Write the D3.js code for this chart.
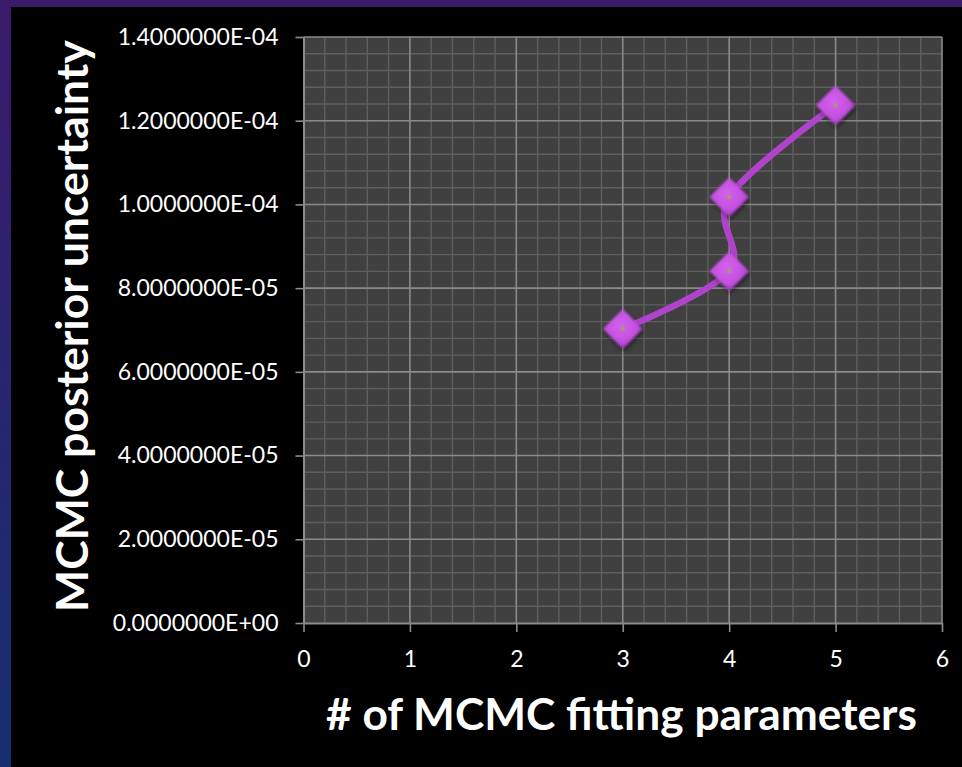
<!DOCTYPE html>
<html>
<head>
<meta charset="utf-8">
<script src="https://cdn.jsdelivr.net/npm/d3@7"></script>
<style>
  html, body { margin: 0; padding: 0; background: #000; }
  svg { display: block; }
</style>
</head>
<body>
<svg id="chart" width="962" height="767"></svg>
<script>
// Number of MCMC fitting parameters vs. posterior uncertainty
const params = [3, 4, 4, 5];
const uncertainty = [7.03e-5, 8.41e-5, 1.018e-4, 1.237e-4];

const xTickValues = [0, 1, 2, 3, 4, 5, 6];
const xTickLabels = ["0", "1", "2", "3", "4", "5", "6"];
const yTickValues = [0, 2e-5, 4e-5, 6e-5, 8e-5, 1e-4, 1.2e-4, 1.4e-4];
const yTickLabels = [
  "0.0000000E+00", "2.0000000E-05", "4.0000000E-05", "6.0000000E-05",
  "8.0000000E-05", "1.0000000E-04", "1.2000000E-04", "1.4000000E-04"
];

const xTitle = "# of MCMC fitting parameters";
const yTitle = "MCMC posterior uncertainty";

const W = 962, H = 767;
const plot = { left: 303.5, right: 942, top: 37, bottom: 623 };

const svg = d3.select("#chart");
const defs = svg.append("defs");

// slide backdrop: purple-to-blue band behind a black panel
const bg = defs.append("linearGradient").attr("id", "slideBg")
  .attr("x1", 0).attr("y1", 0).attr("x2", 0).attr("y2", 1);
bg.append("stop").attr("offset", "0%").attr("stop-color", "#3b1a6c");
bg.append("stop").attr("offset", "100%").attr("stop-color", "#16306f");
svg.append("rect").attr("width", W).attr("height", H).attr("fill", "url(#slideBg)");
svg.append("rect").attr("x", 11).attr("y", 7).attr("width", W - 11).attr("height", H - 7).attr("fill", "#000");

// marker styling
const mg = defs.append("radialGradient").attr("id", "markerFill")
  .attr("cx", "45%").attr("cy", "42%").attr("r", "60%");
mg.append("stop").attr("offset", "0%").attr("stop-color", "#d462ec");
mg.append("stop").attr("offset", "70%").attr("stop-color", "#c24fde");
mg.append("stop").attr("offset", "100%").attr("stop-color", "#9c35ba");
const shadow = defs.append("filter").attr("id", "markerShadow")
  .attr("x", "-50%").attr("y", "-50%").attr("width", "200%").attr("height", "200%");
shadow.append("feGaussianBlur").attr("in", "SourceGraphic").attr("stdDeviation", 0.8).attr("result", "soft");
shadow.append("feDropShadow").attr("in", "soft").attr("dx", 1).attr("dy", 2.5)
  .attr("stdDeviation", 2).attr("flood-color", "#000").attr("flood-opacity", 0.7);

const x = d3.scaleLinear().domain([0, 6]).range([plot.left, plot.right]);
const y = d3.scaleLinear().domain([0, 1.4e-4]).range([plot.bottom, plot.top]);

// plot area
svg.append("rect")
  .attr("x", plot.left).attr("y", plot.top)
  .attr("width", plot.right - plot.left).attr("height", plot.bottom - plot.top)
  .attr("fill", "#404040");

// minor gridlines (5 per major step)
const xMinor = d3.range(0, 6.0001, 0.2).filter(v => Math.abs(v - Math.round(v)) > 1e-6);
const yMinor = d3.range(0, 1.40001e-4, 4e-6).filter(v => Math.abs(v / 2e-5 - Math.round(v / 2e-5)) > 1e-6);
const grid = svg.append("g");
grid.selectAll(".xm").data(xMinor).join("line")
  .attr("x1", d => x(d)).attr("x2", d => x(d))
  .attr("y1", plot.top).attr("y2", plot.bottom)
  .attr("stroke", "#5f5f5f").attr("stroke-width", 1.4);
grid.selectAll(".ym").data(yMinor).join("line")
  .attr("x1", plot.left).attr("x2", plot.right)
  .attr("y1", d => y(d)).attr("y2", d => y(d))
  .attr("stroke", "#5f5f5f").attr("stroke-width", 1.4);
// major gridlines
grid.selectAll(".xM").data(xTickValues.slice(1)).join("line")
  .attr("x1", d => x(d)).attr("x2", d => x(d))
  .attr("y1", plot.top).attr("y2", plot.bottom)
  .attr("stroke", "#8a8a8a").attr("stroke-width", 1.6);
grid.selectAll(".yM").data(yTickValues.slice(1)).join("line")
  .attr("x1", plot.left).attr("x2", plot.right)
  .attr("y1", d => y(d)).attr("y2", d => y(d))
  .attr("stroke", "#8a8a8a").attr("stroke-width", 1.6);

// axes
const tickFont = "Lato, 'Open Sans', sans-serif";
const yAxis = svg.append("g")
  .attr("transform", `translate(${plot.left},0)`)
  .call(d3.axisLeft(y).tickValues(yTickValues)
    .tickFormat((d, i) => yTickLabels[i]).tickSize(8).tickPadding(17).tickSizeOuter(0));
const xAxis = svg.append("g")
  .attr("transform", `translate(0,${plot.bottom})`)
  .call(d3.axisBottom(x).tickValues(xTickValues)
    .tickFormat((d, i) => xTickLabels[i]).tickSize(9).tickPadding(19).tickSizeOuter(0));
[yAxis, xAxis].forEach(a => {
  a.select(".domain").attr("stroke", "#8c8c8c").attr("stroke-width", 2);
  a.selectAll(".tick line").attr("stroke", "#8c8c8c").attr("stroke-width", 1.6);
  a.selectAll("text").attr("fill", "#fff").attr("font-family", tickFont)
    .attr("font-size", 24);
});

// fit tick label size so "1.4000000E-04" spans about 161px
(function fitTicks() {
  const t = yAxis.selectAll(".tick text").filter((d, i) => i === yTickLabels.length - 1).node();
  const w = t.getComputedTextLength();
  const fs = 24 * 161 / w;
  yAxis.selectAll("text").attr("font-size", fs);
  xAxis.selectAll("text").attr("font-size", fs);
})();

// smoothed series line
const pts = params.map((p, i) => [x(p), y(uncertainty[i])]);
svg.append("path")
  .attr("d", d3.line().curve(d3.curveCardinal.tension(0))(pts))
  .attr("fill", "none").attr("stroke", "#b043cc").attr("stroke-width", 6.5)
  .attr("stroke-linecap", "round");

// diamond markers
const markerR = 19.5;
const mk = svg.append("g").selectAll("g").data(pts).join("g")
  .attr("transform", d => `translate(${d[0]},${d[1]})`);
mk.append("path")
  .attr("d", `M0,${-markerR}L${markerR},0L0,${markerR}L${-markerR},0Z`)
  .attr("fill", "url(#markerFill)")
  .attr("filter", "url(#markerShadow)");
mk.append("circle").attr("r", 2.2).attr("fill", "#a39a6e");

// axis titles, sized to their measured spans
const titleFont = "Lato, 'Open Sans', sans-serif";
const xt = svg.append("text").text(xTitle)
  .attr("x", (326 + 917) / 2).attr("y", 729.5)
  .attr("text-anchor", "middle").attr("fill", "#fff")
  .attr("font-family", titleFont).attr("font-weight", 700).attr("font-size", 44);
xt.attr("font-size", 44 * 591 / xt.node().getComputedTextLength());

const yt = svg.append("text").text(yTitle)
  .attr("transform", `translate(88,${(40 + 612) / 2}) rotate(-90)`)
  .attr("text-anchor", "middle").attr("fill", "#fff")
  .attr("font-family", titleFont).attr("font-weight", 700).attr("font-size", 44);
yt.attr("font-size", 44 * 572 / yt.node().getComputedTextLength());
</script>
</body>
</html>
